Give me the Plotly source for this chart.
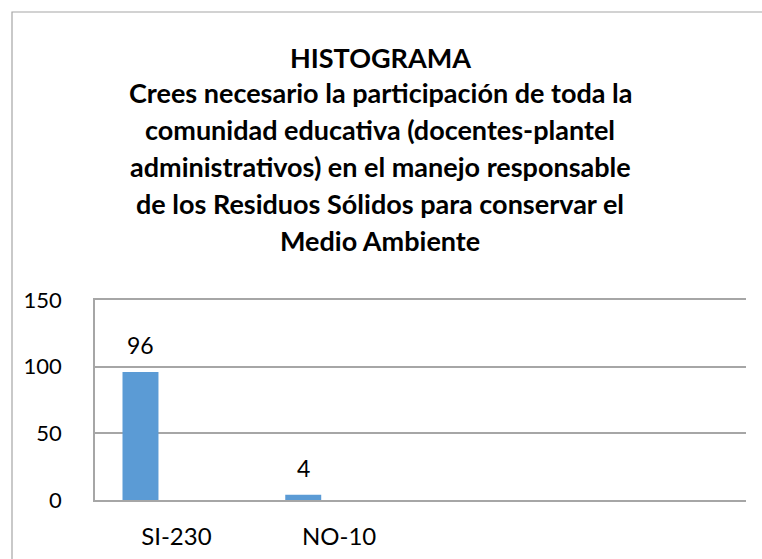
import plotly.graph_objects as go

categories = ["SI-230", "NO-10"]
values = [96, 4]
title_lines = [
    "HISTOGRAMA",
    "Crees necesario la participación de toda la",
    "comunidad educativa (docentes-plantel",
    "administrativos) en el manejo responsable",
    "de los Residuos Sólidos para conservar el",
    "Medio Ambiente",
]
y_ticks = [0, 50, 100, 150]

W, H = 762, 559
L, R, T, B = 95, 16, 300, 59
PH = H - T - B

def py(ypx):
    return (H - B - ypx) / PH

def px(xpx):
    return (xpx - L) / (W - L - R)

FONT = "Lato"
fig = go.Figure()
fig.add_trace(go.Bar(
    x=categories, y=values,
    marker=dict(color="#5B9BD5", line=dict(width=0)),
    width=0.221, offset=-0.331,
    hoverinfo="x+y",
))

annotations = []
for c, v in zip(categories, values):
    annotations.append(dict(
        x=c, y=v, xref="x", yref="y", text=str(v), showarrow=False,
        xshift=-0.22 * 163, yshift=27, yanchor="middle",
        font=dict(family=FONT, size=23, color="#000000"),
    ))

title_y = [57, 93, 129, 166, 203, 240]
for t, yp in zip(title_lines, title_y):
    annotations.append(dict(
        x=(380 - L) / (W - L - R), y=py(yp), xref="paper", yref="paper",
        text="<b>" + t + "</b>", showarrow=False, yanchor="middle",
        xanchor="center",
        font=dict(family=FONT, size=27, color="#000000"),
    ))

fig.update_layout(
    width=W, height=H,
    margin=dict(l=L, r=R, t=T, b=B, autoexpand=False),
    paper_bgcolor="white", plot_bgcolor="white",
    showlegend=False,
    annotations=annotations,
    shapes=[dict(type="rect", xref="paper", yref="paper",
                 x0=px(12), x1=px(775), y0=py(12), y1=py(575),
                 line=dict(color="#a6a6a6", width=1.2), layer="below")],
    xaxis=dict(
        type="category", range=[-0.5, 3.5], automargin=False,
        showgrid=False, showline=True, mirror=True,
        linecolor="#a6a6a6", linewidth=1.5,
        ticks="", tickfont=dict(family=FONT, size=24, color="#000000"),
        ticklabelstandoff=14,
    ),
    yaxis=dict(
        range=[0, 150], tickvals=y_ticks, automargin=False,
        showgrid=True, gridcolor="#a6a6a6", gridwidth=1.5,
        showline=True, linecolor="#a6a6a6", linewidth=1.5,
        zeroline=False, ticks="",
        tickfont=dict(family=FONT, size=22, color="#000000"),
        ticklabelstandoff=27,
    ),
)

fig.write_html("out.html", config={"displayModeBar": False},
               post_script="document.body.style.margin='0';document.body.style.padding='0';")
